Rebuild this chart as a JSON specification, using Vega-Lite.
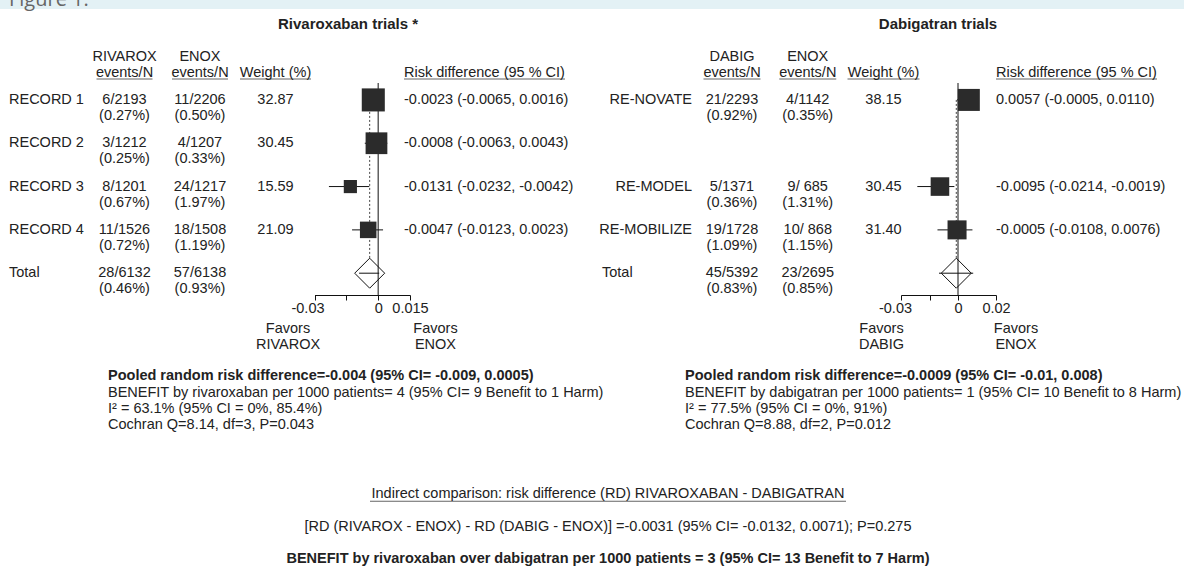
{
"$schema": "https://vega.github.io/schema/vega-lite/v6.json",
"width": 1184, "height": 567,
"autosize": {"type": "none"},
"padding": 0,
"background": "white",
"config": {"view": {"stroke": null}, "font": "Liberation Sans", "text": {"font": "Liberation Sans", "fontSize": 14.5, "color": "#222"}, "tick": {"thickness": 1}},
"datasets": {
 "riva": [
  {"study": "header", "row": 0, "name": ["", ""], "riv": ["RIVAROX", "events/N"], "enox": ["ENOX", "events/N"], "wtext": ["", "Weight (%)"], "rdtext": ["", "Risk difference (95 % CI)"]},
  {"study": "RECORD 1", "row": 1, "name": ["RECORD 1", ""], "riv": ["6/2193", "(0.27%)"], "enox": ["11/2206", "(0.50%)"], "weight": 32.87, "wtext": ["32.87", ""], "rd": -0.0023, "lo": -0.0065, "hi": 0.0016, "rdtext": ["-0.0023 (-0.0065, 0.0016)", ""]},
  {"study": "RECORD 2", "row": 2, "name": ["RECORD 2", ""], "riv": ["3/1212", "(0.25%)"], "enox": ["4/1207", "(0.33%)"], "weight": 30.45, "wtext": ["30.45", ""], "rd": -0.0008, "lo": -0.0063, "hi": 0.0043, "rdtext": ["-0.0008 (-0.0063, 0.0043)", ""]},
  {"study": "RECORD 3", "row": 3, "name": ["RECORD 3", ""], "riv": ["8/1201", "(0.67%)"], "enox": ["24/1217", "(1.97%)"], "weight": 15.59, "wtext": ["15.59", ""], "rd": -0.0131, "lo": -0.0232, "hi": -0.0042, "rdtext": ["-0.0131 (-0.0232, -0.0042)", ""]},
  {"study": "RECORD 4", "row": 4, "name": ["RECORD 4", ""], "riv": ["11/1526", "(0.72%)"], "enox": ["18/1508", "(1.19%)"], "weight": 21.09, "wtext": ["21.09", ""], "rd": -0.0047, "lo": -0.0123, "hi": 0.0023, "rdtext": ["-0.0047 (-0.0123, 0.0023)", ""]},
  {"study": "Total", "row": 5, "name": ["Total", ""], "riv": ["28/6132", "(0.46%)"], "enox": ["57/6138", "(0.93%)"], "wtext": ["", ""], "rd": -0.004, "lo": -0.009, "hi": 0.0005, "rdtext": ["", ""]}
 ],
 "dabi": [
  {"study": "header", "row": 0, "name": ["", ""], "dabig": ["DABIG", "events/N"], "enox": ["ENOX", "events/N"], "wtext": ["", "Weight (%)"], "rdtext": ["", "Risk difference (95 % CI)"]},
  {"study": "RE-NOVATE", "row": 1, "name": ["RE-NOVATE", ""], "dabig": ["21/2293", "(0.92%)"], "enox": ["4/1142", "(0.35%)"], "weight": 38.15, "wtext": ["38.15", ""], "rd": 0.0057, "lo": -0.0005, "hi": 0.011, "rdtext": ["\u00a00.0057 (-0.0005, 0.0110)", ""]},
  {"study": "RE-MODEL", "row": 3, "name": ["RE-MODEL", ""], "dabig": ["5/1371", "(0.36%)"], "enox": ["9/ 685", "(1.31%)"], "weight": 30.45, "wtext": ["30.45", ""], "rd": -0.0095, "lo": -0.0214, "hi": -0.0019, "rdtext": ["-0.0095 (-0.0214, -0.0019)", ""]},
  {"study": "RE-MOBILIZE", "row": 4, "name": ["RE-MOBILIZE", ""], "dabig": ["19/1728", "(1.09%)"], "enox": ["10/ 868", "(1.15%)"], "weight": 31.4, "wtext": ["31.40", ""], "rd": -0.0005, "lo": -0.0108, "hi": 0.0076, "rdtext": ["-0.0005 (-0.0108, 0.0076)", ""]},
  {"study": "Total", "row": 5, "name": ["Total", ""], "dabig": ["45/5392", "(0.83%)"], "enox": ["23/2695", "(0.85%)"], "wtext": ["", ""], "rd": -0.0009, "lo": -0.01, "hi": 0.008, "rdtext": ["", ""]}
 ],
 "notes": [
  {"panel": "L", "line": 1, "text": "Pooled random risk difference=-0.004 (95% CI= -0.009, 0.0005)"},
  {"panel": "L", "line": 2, "text": "BENEFIT by rivaroxaban per 1000 patients= 4 (95% CI= 9 Benefit to 1 Harm)"},
  {"panel": "L", "line": 3, "text": "I² = 63.1% (95% CI = 0%, 85.4%)"},
  {"panel": "L", "line": 4, "text": "Cochran Q=8.14, df=3, P=0.043"},
  {"panel": "R", "line": 1, "text": "Pooled random risk difference=-0.0009 (95% CI= -0.01, 0.008)"},
  {"panel": "R", "line": 2, "text": "BENEFIT by dabigatran per 1000 patients= 1 (95% CI= 10 Benefit to 8 Harm)"},
  {"panel": "R", "line": 3, "text": "I² = 77.5% (95% CI = 0%, 91%)"},
  {"panel": "R", "line": 4, "text": "Cochran Q=8.88, df=2, P=0.012"}
 ],
 "bottom": [
  {"part": "C", "line": 1, "text": "Indirect comparison: risk difference (RD) RIVAROXABAN - DABIGATRAN"},
  {"part": "C", "line": 2, "text": "[RD (RIVAROX - ENOX) - RD (DABIG - ENOX)] =-0.0031 (95% CI= -0.0132, 0.0071); P=0.275"},
  {"part": "C", "line": 3, "text": "BENEFIT by rivaroxaban over dabigatran per 1000 patients = 3 (95% CI= 13 Benefit to 7 Harm)"}
 ],
 "fig": [{"label": "Figure 1."}],
 "titles": [{"panel": "L", "text": "Rivaroxaban trials *"}, {"panel": "R", "text": "Dabigatran trials"}],
 "favL": [{"side": "lo", "text": ["Favors", "RIVAROX"]}, {"side": "hi", "text": ["Favors", "ENOX"]}],
 "favR": [{"side": "lo", "text": ["Favors", "DABIG"]}, {"side": "hi", "text": ["Favors", "ENOX"]}]
},
"resolve": {"scale": {"x": "independent", "y": "independent", "size": "independent"}},
"layer": [
 {"data": {"name": "fig"},
  "mark": {"type": "rule", "color": "#e3f1f5", "strokeWidth": 18},
  "encoding": {"y": {"datum": 0, "type": "quantitative", "scale": {"domain": [0, 1], "range": [0, 9], "nice": false, "zero": false}, "axis": null}}},
 {"data": {"name": "fig"},
  "mark": {"type": "text", "align": "left", "baseline": "alphabetic", "font": "Open Sans", "fontSize": 20, "color": "#666"},
  "encoding": {
   "x": {"datum": 0, "type": "quantitative", "scale": {"domain": [0, 1], "range": [9, 1184], "nice": false, "zero": false}, "axis": null},
   "y": {"datum": 0.67, "type": "quantitative", "scale": {"domain": [0, 1], "range": [0, 9], "nice": false, "zero": false}, "axis": null},
   "text": {"field": "label", "type": "nominal"}}},

 {"data": {"name": "riva"},
  "transform": [{"filter": "datum.row > 0"}],
  "mark": {"type": "rule", "color": "#444", "strokeWidth": 1, "strokeDash": [2, 2]},
  "encoding": {
   "x": {"aggregate": {"argmax": "row"}, "field": "rd", "type": "quantitative", "scale": {"domain": [-0.03, 0.015], "range": [314.5, 410], "nice": false, "zero": false}, "axis": null},
   "y": {"aggregate": "min", "field": "row", "type": "quantitative", "scale": {"domain": [0, 5], "range": [56.6, 273.2], "nice": false, "zero": false}, "axis": null},
   "y2": {"aggregate": "max", "field": "row"}}},
 {"data": {"name": "riva"},
  "transform": [{"filter": "datum.study == 'Total'"}],
  "mark": {"type": "point", "shape": "diamond", "size": 900, "filled": true, "fill": "white", "stroke": "#111", "strokeWidth": 1, "opacity": 1},
  "encoding": {
   "x": {"field": "rd", "type": "quantitative", "scale": {"domain": [-0.03, 0.015], "range": [314.5, 410], "nice": false, "zero": false}, "axis": null},
   "y": {"field": "row", "type": "quantitative", "scale": {"domain": [0, 5], "range": [56.6, 273.2], "nice": false, "zero": false}, "axis": null}}},
 {"data": {"name": "riva"},
  "mark": {"type": "rule", "color": "#111", "strokeWidth": 1},
  "encoding": {
   "x": {"datum": 0, "type": "quantitative", "scale": {"domain": [-0.03, 0.015], "range": [314.5, 410], "nice": false, "zero": false},
         "axis": {"orient": "bottom", "offset": -272, "values": [-0.03, -0.015, 0, 0.015], "labelExpr": "datum.value == -0.03 ? '-0.03' : datum.value == 0 ? '0' : datum.value == 0.015 ? '0.015' : ''", "labelOffset": {"condition": {"test": "datum.value == -0.03", "value": -7}, "value": 0}, "title": null, "grid": false, "domainColor": "#111", "tickColor": "#111", "tickSize": 5, "labelPadding": 1, "labelFontSize": 14.5, "labelFont": "Liberation Sans", "labelColor": "#222", "labelFlush": false, "labelOverlap": false, "labelBound": false, "domainWidth": 1, "tickWidth": 1}},
   "y": {"aggregate": "min", "field": "row", "type": "quantitative", "scale": {"domain": [0, 5], "range": [83, 295], "nice": false, "zero": false}, "axis": null},
   "y2": {"aggregate": "max", "field": "row"}}},
 {"data": {"name": "riva"},
  "transform": [{"filter": "datum.row > 0"}],
  "mark": {"type": "rule", "color": "#111", "strokeWidth": 1},
  "encoding": {
   "x": {"field": "lo", "type": "quantitative", "scale": {"domain": [-0.03, 0.015], "range": [314.5, 410], "nice": false, "zero": false}, "axis": null},
   "x2": {"field": "hi"},
   "y": {"field": "row", "type": "quantitative", "scale": {"domain": [0, 5], "range": [56.6, 273.2], "nice": false, "zero": false}, "axis": null}}},
 {"data": {"name": "riva"},
  "transform": [{"filter": "datum.row > 0 && datum.study != 'Total'"}],
  "mark": {"type": "point", "shape": "square", "filled": true, "color": "#2b2b2b", "opacity": 1},
  "encoding": {
   "x": {"field": "rd", "type": "quantitative", "scale": {"domain": [-0.03, 0.015], "range": [314.5, 410], "nice": false, "zero": false}, "axis": null},
   "y": {"field": "row", "type": "quantitative", "scale": {"domain": [0, 5], "range": [56.6, 273.2], "nice": false, "zero": false}, "axis": null},
   "size": {"field": "weight", "type": "quantitative", "scale": {"type": "pow", "exponent": 1.5, "domain": [0, 40], "range": [0, 713]}, "legend": null}}},

 {"data": {"name": "dabi"},
  "transform": [{"filter": "datum.row > 0"}],
  "mark": {"type": "rule", "color": "#444", "strokeWidth": 1, "strokeDash": [2, 2]},
  "encoding": {
   "x": {"aggregate": {"argmax": "row"}, "field": "rd", "type": "quantitative", "scale": {"domain": [-0.03, 0.02], "range": [901, 996], "nice": false, "zero": false}, "axis": null},
   "y": {"aggregate": "min", "field": "row", "type": "quantitative", "scale": {"domain": [0, 5], "range": [56.6, 273.2], "nice": false, "zero": false}, "axis": null},
   "y2": {"aggregate": "max", "field": "row"}}},
 {"data": {"name": "dabi"},
  "transform": [{"filter": "datum.study == 'Total'"}],
  "mark": {"type": "point", "shape": "diamond", "size": 900, "filled": true, "fill": "white", "stroke": "#111", "strokeWidth": 1, "opacity": 1},
  "encoding": {
   "x": {"field": "rd", "type": "quantitative", "scale": {"domain": [-0.03, 0.02], "range": [901, 996], "nice": false, "zero": false}, "axis": null},
   "y": {"field": "row", "type": "quantitative", "scale": {"domain": [0, 5], "range": [56.6, 273.2], "nice": false, "zero": false}, "axis": null}}},
 {"data": {"name": "dabi"},
  "mark": {"type": "rule", "color": "#111", "strokeWidth": 1},
  "encoding": {
   "x": {"datum": 0, "type": "quantitative", "scale": {"domain": [-0.03, 0.02], "range": [901, 996], "nice": false, "zero": false},
         "axis": {"orient": "bottom", "offset": -272, "values": [-0.03, -0.015, 0, 0.02], "labelExpr": "datum.value == -0.03 ? '-0.03' : datum.value == 0 ? '0' : datum.value == 0.02 ? '0.02' : ''", "labelOffset": {"condition": {"test": "datum.value == -0.03", "value": -6}, "value": 0}, "title": null, "grid": false, "domainColor": "#111", "tickColor": "#111", "tickSize": 5, "labelPadding": 1, "labelFontSize": 14.5, "labelFont": "Liberation Sans", "labelColor": "#222", "labelFlush": false, "labelOverlap": false, "labelBound": false, "domainWidth": 1, "tickWidth": 1}},
   "y": {"aggregate": "min", "field": "row", "type": "quantitative", "scale": {"domain": [0, 5], "range": [83, 295], "nice": false, "zero": false}, "axis": null},
   "y2": {"aggregate": "max", "field": "row"}}},
 {"data": {"name": "dabi"},
  "transform": [{"filter": "datum.row > 0"}],
  "mark": {"type": "rule", "color": "#111", "strokeWidth": 1},
  "encoding": {
   "x": {"field": "lo", "type": "quantitative", "scale": {"domain": [-0.03, 0.02], "range": [901, 996], "nice": false, "zero": false}, "axis": null},
   "x2": {"field": "hi"},
   "y": {"field": "row", "type": "quantitative", "scale": {"domain": [0, 5], "range": [56.6, 273.2], "nice": false, "zero": false}, "axis": null}}},
 {"data": {"name": "dabi"},
  "transform": [{"filter": "datum.row > 0 && datum.study != 'Total'"}],
  "mark": {"type": "point", "shape": "square", "filled": true, "color": "#2b2b2b", "opacity": 1},
  "encoding": {
   "x": {"field": "rd", "type": "quantitative", "scale": {"domain": [-0.03, 0.02], "range": [901, 996], "nice": false, "zero": false}, "axis": null},
   "y": {"field": "row", "type": "quantitative", "scale": {"domain": [0, 5], "range": [56.6, 273.2], "nice": false, "zero": false}, "axis": null},
   "size": {"field": "weight", "type": "quantitative", "scale": {"type": "pow", "exponent": 1.5, "domain": [0, 40], "range": [0, 520]}, "legend": null}}},

 {"data": {"name": "riva"},
  "transform": [{"fold": ["riv", "enox", "wtext"], "as": ["col", "val"]}],
  "mark": {"type": "text", "align": "center", "baseline": "middle", "lineHeight": 16},
  "encoding": {
   "x": {"field": "col", "type": "nominal", "scale": {"type": "point", "domain": ["riv", "enox", "wtext"], "range": [124.5, 275.5], "padding": 0}, "axis": null},
   "y": {"field": "row", "type": "quantitative", "scale": {"domain": [0, 5], "range": [56.6, 273.2], "nice": false, "zero": false}, "axis": null},
   "text": {"field": "val", "type": "nominal"}}},
 {"data": {"name": "riva"},
  "transform": [{"fold": ["name", "rdtext"], "as": ["col", "val"]}],
  "mark": {"type": "text", "align": "left", "baseline": "middle", "lineHeight": 16},
  "encoding": {
   "x": {"field": "col", "type": "nominal", "scale": {"type": "point", "domain": ["name", "rdtext"], "range": [9, 404], "padding": 0}, "axis": null},
   "y": {"field": "row", "type": "quantitative", "scale": {"domain": [0, 5], "range": [56.6, 273.2], "nice": false, "zero": false}, "axis": null},
   "text": {"field": "val", "type": "nominal"}}},
 {"data": {"name": "dabi"},
  "transform": [{"fold": ["dabig", "enox", "wtext"], "as": ["col", "val"]}],
  "mark": {"type": "text", "align": "center", "baseline": "middle", "lineHeight": 16},
  "encoding": {
   "x": {"field": "col", "type": "nominal", "scale": {"type": "point", "domain": ["dabig", "enox", "wtext"], "range": [732, 883.5], "padding": 0}, "axis": null},
   "y": {"field": "row", "type": "quantitative", "scale": {"domain": [0, 5], "range": [56.6, 273.2], "nice": false, "zero": false}, "axis": null},
   "text": {"field": "val", "type": "nominal"}}},
 {"data": {"name": "dabi"},
  "transform": [{"filter": "datum.study != 'Total'"}, {"fold": ["name"], "as": ["col", "val"]}],
  "mark": {"type": "text", "align": "right", "baseline": "middle", "lineHeight": 16},
  "encoding": {
   "x": {"field": "col", "type": "nominal", "scale": {"type": "point", "domain": ["name", "rdtext"], "range": [692, 996], "padding": 0}, "axis": null},
   "y": {"field": "row", "type": "quantitative", "scale": {"domain": [0, 5], "range": [56.6, 273.2], "nice": false, "zero": false}, "axis": null},
   "text": {"field": "val", "type": "nominal"}}},
 {"data": {"name": "dabi"},
  "transform": [{"fold": ["rdtext"], "as": ["col", "val"]}],
  "mark": {"type": "text", "align": "left", "baseline": "middle", "lineHeight": 16},
  "encoding": {
   "x": {"field": "col", "type": "nominal", "scale": {"type": "point", "domain": ["name", "rdtext"], "range": [692, 996], "padding": 0}, "axis": null},
   "y": {"field": "row", "type": "quantitative", "scale": {"domain": [0, 5], "range": [56.6, 273.2], "nice": false, "zero": false}, "axis": null},
   "text": {"field": "val", "type": "nominal"}}},
 {"data": {"name": "dabi"},
  "transform": [{"filter": "datum.study == 'Total'"}, {"fold": ["name"], "as": ["col", "val"]}],
  "mark": {"type": "text", "align": "left", "baseline": "middle", "lineHeight": 16},
  "encoding": {
   "x": {"field": "study", "type": "nominal", "scale": {"type": "point", "domain": ["Total", "other"], "range": [602, 692], "padding": 0}, "axis": null},
   "y": {"field": "row", "type": "quantitative", "scale": {"domain": [0, 5], "range": [56.6, 273.2], "nice": false, "zero": false}, "axis": null},
   "text": {"field": "val", "type": "nominal"}}},

 {"data": {"name": "riva"},
  "transform": [{"filter": "datum.row == 0"}, {"fold": ["riv", "enox"], "as": ["col", "val"]}],
  "mark": {"type": "tick", "orient": "horizontal", "size": 56, "thickness": 1, "color": "#222", "yOffset": 22.4},
  "encoding": {
   "x": {"field": "col", "type": "nominal", "scale": {"type": "point", "domain": ["riv", "enox", "wtext"], "range": [124.5, 275.5], "padding": 0}, "axis": null},
   "y": {"field": "row", "type": "quantitative", "scale": {"domain": [0, 5], "range": [56.6, 273.2], "nice": false, "zero": false}, "axis": null}}},
 {"data": {"name": "riva"},
  "transform": [{"filter": "datum.row == 0"}, {"fold": ["wtext"], "as": ["col", "val"]}],
  "mark": {"type": "tick", "orient": "horizontal", "size": 71, "thickness": 1, "color": "#222", "yOffset": 22.4},
  "encoding": {
   "x": {"field": "col", "type": "nominal", "scale": {"type": "point", "domain": ["riv", "enox", "wtext"], "range": [124.5, 275.5], "padding": 0}, "axis": null},
   "y": {"field": "row", "type": "quantitative", "scale": {"domain": [0, 5], "range": [56.6, 273.2], "nice": false, "zero": false}, "axis": null}}},
 {"data": {"name": "riva"},
  "transform": [{"filter": "datum.row == 0"}, {"fold": ["rdtext"], "as": ["col", "val"]}],
  "mark": {"type": "tick", "orient": "horizontal", "size": 161, "thickness": 1, "color": "#222", "yOffset": 22.4, "xOffset": 80.5},
  "encoding": {
   "x": {"field": "col", "type": "nominal", "scale": {"type": "point", "domain": ["name", "rdtext"], "range": [9, 404], "padding": 0}, "axis": null},
   "y": {"field": "row", "type": "quantitative", "scale": {"domain": [0, 5], "range": [56.6, 273.2], "nice": false, "zero": false}, "axis": null}}},
 {"data": {"name": "dabi"},
  "transform": [{"filter": "datum.row == 0"}, {"fold": ["dabig", "enox"], "as": ["col", "val"]}],
  "mark": {"type": "tick", "orient": "horizontal", "size": 57, "thickness": 1, "color": "#222", "yOffset": 22.4},
  "encoding": {
   "x": {"field": "col", "type": "nominal", "scale": {"type": "point", "domain": ["dabig", "enox", "wtext"], "range": [732, 883.5], "padding": 0}, "axis": null},
   "y": {"field": "row", "type": "quantitative", "scale": {"domain": [0, 5], "range": [56.6, 273.2], "nice": false, "zero": false}, "axis": null}}},
 {"data": {"name": "dabi"},
  "transform": [{"filter": "datum.row == 0"}, {"fold": ["wtext"], "as": ["col", "val"]}],
  "mark": {"type": "tick", "orient": "horizontal", "size": 72, "thickness": 1, "color": "#222", "yOffset": 22.4},
  "encoding": {
   "x": {"field": "col", "type": "nominal", "scale": {"type": "point", "domain": ["dabig", "enox", "wtext"], "range": [732, 883.5], "padding": 0}, "axis": null},
   "y": {"field": "row", "type": "quantitative", "scale": {"domain": [0, 5], "range": [56.6, 273.2], "nice": false, "zero": false}, "axis": null}}},
 {"data": {"name": "dabi"},
  "transform": [{"filter": "datum.row == 0"}, {"fold": ["rdtext"], "as": ["col", "val"]}],
  "mark": {"type": "tick", "orient": "horizontal", "size": 161, "thickness": 1, "color": "#222", "yOffset": 22.4, "xOffset": 80.5},
  "encoding": {
   "x": {"field": "col", "type": "nominal", "scale": {"type": "point", "domain": ["name", "rdtext"], "range": [692, 996], "padding": 0}, "axis": null},
   "y": {"field": "row", "type": "quantitative", "scale": {"domain": [0, 5], "range": [56.6, 273.2], "nice": false, "zero": false}, "axis": null}}},

 {"data": {"name": "titles"},
  "mark": {"type": "text", "align": "center", "baseline": "middle", "fontWeight": "bold", "fontSize": 15},
  "encoding": {
   "x": {"field": "panel", "type": "nominal", "scale": {"type": "point", "domain": ["L", "R"], "range": [348, 938], "padding": 0}, "axis": null},
   "y": {"datum": -0.7595, "type": "quantitative", "scale": {"domain": [0, 5], "range": [56.6, 273.2], "nice": false, "zero": false}, "axis": null},
   "text": {"field": "text", "type": "nominal"}}},
 {"data": {"name": "favL"},
  "mark": {"type": "text", "align": "center", "baseline": "middle", "lineHeight": 16},
  "encoding": {
   "x": {"field": "side", "type": "nominal", "scale": {"type": "point", "domain": ["lo", "hi"], "range": [288, 435.5], "padding": 0}, "axis": null},
   "y": {"datum": 6.286, "type": "quantitative", "scale": {"domain": [0, 5], "range": [56.6, 273.2], "nice": false, "zero": false}, "axis": null},
   "text": {"field": "text", "type": "nominal"}}},
 {"data": {"name": "favR"},
  "mark": {"type": "text", "align": "center", "baseline": "middle", "lineHeight": 16},
  "encoding": {
   "x": {"field": "side", "type": "nominal", "scale": {"type": "point", "domain": ["lo", "hi"], "range": [881.5, 1016], "padding": 0}, "axis": null},
   "y": {"datum": 6.286, "type": "quantitative", "scale": {"domain": [0, 5], "range": [56.6, 273.2], "nice": false, "zero": false}, "axis": null},
   "text": {"field": "text", "type": "nominal"}}},

 {"data": {"name": "notes"},
  "transform": [{"filter": "datum.line > 1"}],
  "mark": {"type": "text", "align": "left", "baseline": "middle"},
  "encoding": {
   "x": {"field": "panel", "type": "nominal", "scale": {"type": "point", "domain": ["L", "R"], "range": [108, 685], "padding": 0}, "axis": null},
   "y": {"field": "line", "type": "ordinal", "scale": {"type": "point", "domain": [1, 2, 3, 4], "range": [376.2, 425.2], "padding": 0}, "axis": null},
   "text": {"field": "text", "type": "nominal"}}},
 {"data": {"name": "notes"},
  "transform": [{"filter": "datum.line == 1"}],
  "mark": {"type": "text", "align": "left", "baseline": "middle", "fontWeight": "bold"},
  "encoding": {
   "x": {"field": "panel", "type": "nominal", "scale": {"type": "point", "domain": ["L", "R"], "range": [108, 685], "padding": 0}, "axis": null},
   "y": {"field": "line", "type": "ordinal", "scale": {"type": "point", "domain": [1, 2, 3, 4], "range": [376.2, 425.2], "padding": 0}, "axis": null},
   "text": {"field": "text", "type": "nominal"}}},
 {"data": {"name": "bottom"},
  "transform": [{"filter": "datum.line < 3"}],
  "mark": {"type": "text", "align": "center", "baseline": "middle"},
  "encoding": {
   "x": {"field": "part", "type": "nominal", "scale": {"type": "point", "domain": ["C"], "range": [0, 1216], "padding": 0}, "axis": null},
   "y": {"field": "line", "type": "ordinal", "scale": {"type": "point", "domain": [1, 2, 3], "range": [494.2, 559.2], "padding": 0}, "axis": null},
   "text": {"field": "text", "type": "nominal"}}},
 {"data": {"name": "bottom"},
  "transform": [{"filter": "datum.line == 3"}],
  "mark": {"type": "text", "align": "center", "baseline": "middle", "fontWeight": "bold"},
  "encoding": {
   "x": {"field": "part", "type": "nominal", "scale": {"type": "point", "domain": ["C"], "range": [0, 1216], "padding": 0}, "axis": null},
   "y": {"field": "line", "type": "ordinal", "scale": {"type": "point", "domain": [1, 2, 3], "range": [494.2, 559.2], "padding": 0}, "axis": null},
   "text": {"field": "text", "type": "nominal"}}},
 {"data": {"name": "bottom"},
  "transform": [{"filter": "datum.line == 1"}],
  "mark": {"type": "tick", "orient": "horizontal", "size": 476, "thickness": 1, "color": "#222", "yOffset": 7},
  "encoding": {
   "x": {"field": "part", "type": "nominal", "scale": {"type": "point", "domain": ["C"], "range": [0, 1216], "padding": 0}, "axis": null},
   "y": {"field": "line", "type": "ordinal", "scale": {"type": "point", "domain": [1, 2, 3], "range": [494.2, 559.2], "padding": 0}, "axis": null}}}
]
}
